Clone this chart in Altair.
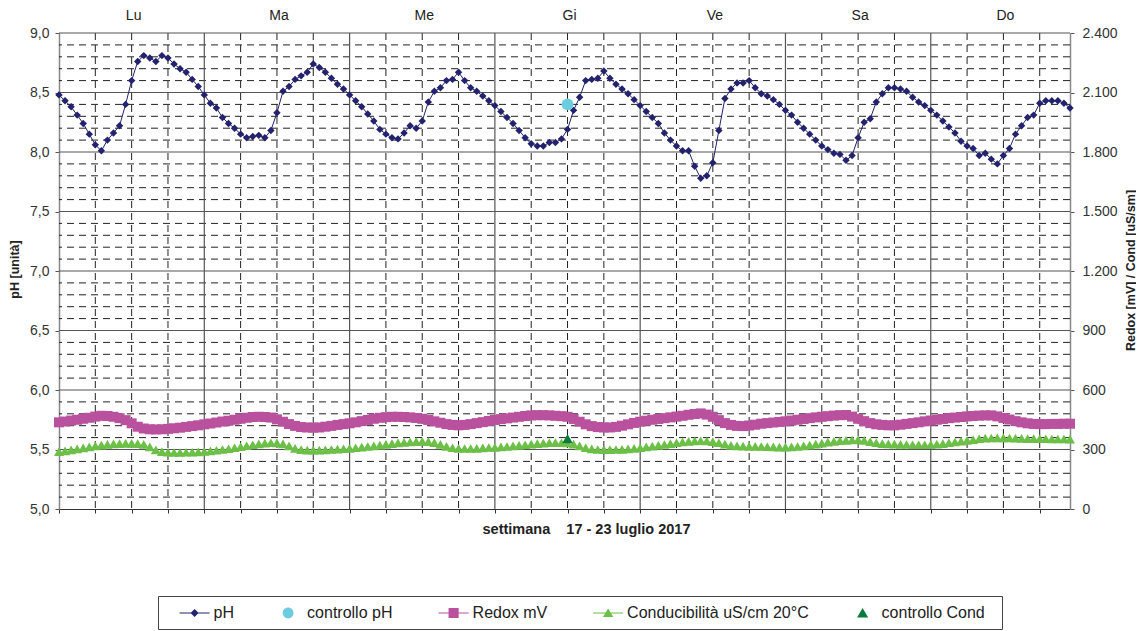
import altair as alt
import pandas as pd

# ---------------- data ----------------
hours = list(range(168))

ph = [8.48, 8.43, 8.38, 8.31, 8.24, 8.15, 8.06, 8.01, 8.10, 8.16, 8.22, 8.40, 8.60, 8.76, 8.81, 8.79, 8.76, 8.81, 8.79, 8.74, 8.70, 8.67, 8.61, 8.55,
      8.48, 8.41, 8.37, 8.29, 8.24, 8.20, 8.15, 8.12, 8.13, 8.14, 8.12, 8.18, 8.33, 8.51, 8.55, 8.61, 8.64, 8.67, 8.74, 8.71, 8.67, 8.62, 8.57, 8.53,
      8.48, 8.43, 8.38, 8.32, 8.26, 8.19, 8.15, 8.12, 8.11, 8.16, 8.22, 8.20, 8.26, 8.42, 8.51, 8.54, 8.60, 8.61, 8.67, 8.60, 8.54, 8.51, 8.47, 8.43,
      8.39, 8.34, 8.29, 8.24, 8.18, 8.12, 8.07, 8.05, 8.05, 8.08, 8.08, 8.11, 8.19, 8.35, 8.46, 8.60, 8.61, 8.62, 8.68, 8.62, 8.57, 8.53, 8.49, 8.44,
      8.39, 8.34, 8.29, 8.24, 8.16, 8.10, 8.05, 8.01, 8.01, 7.88, 7.78, 7.80, 7.91, 8.18, 8.45, 8.53, 8.58, 8.58, 8.60, 8.54, 8.49, 8.47, 8.44, 8.40,
      8.35, 8.31, 8.25, 8.20, 8.15, 8.10, 8.05, 8.02, 7.99, 7.98, 7.93, 7.97, 8.12, 8.25, 8.28, 8.42, 8.49, 8.54, 8.54, 8.53, 8.51, 8.46, 8.42, 8.39,
      8.35, 8.31, 8.26, 8.21, 8.16, 8.09, 8.05, 8.03, 7.97, 7.99, 7.94, 7.90, 7.97, 8.03, 8.15, 8.22, 8.29, 8.31, 8.41, 8.43, 8.43, 8.43, 8.41, 8.37]

redox = [437, 441, 446, 450, 455, 460, 466, 470, 469, 465, 458, 448, 432, 415, 406, 402, 401, 402, 404, 407, 410, 414, 418, 422,
         427, 431, 436, 441, 445, 450, 455, 460, 464, 465, 464, 461, 452, 440, 428, 419, 413, 411, 410, 411, 415, 419, 424, 428,
         432, 437, 443, 449, 455, 460, 463, 465, 465, 464, 462, 459, 455, 449, 442, 435, 428, 424, 422, 424, 428, 433, 438, 444,
         449, 453, 457, 461, 465, 469, 472, 473, 473, 472, 470, 468, 465, 454, 440, 427, 418, 413, 411, 411, 414, 420, 427, 434,
         440, 445, 450, 454, 458, 462, 466, 470, 475, 479, 482, 476, 465, 448, 433, 424, 419, 418, 421, 425, 430, 433, 436, 439,
         442, 446, 450, 454, 458, 462, 465, 468, 471, 473, 474, 466, 455, 443, 433, 427, 424, 422, 422, 425, 429, 433, 437, 442,
         446, 450, 454, 458, 461, 464, 467, 469, 471, 472, 472, 467, 459, 451, 443, 437, 432, 429, 428, 428, 429, 429, 430, 430]

cond = [289, 293, 298, 303, 308, 313, 318, 322, 326, 328, 330, 331, 331, 330, 326, 313, 298, 289, 286, 285, 285, 286, 287, 288,
        290, 293, 296, 300, 304, 309, 314, 319, 324, 328, 332, 334, 333, 328, 318, 306, 299, 297, 297, 297, 298, 300, 302, 304,
        306, 309, 312, 315, 318, 322, 326, 330, 333, 336, 338, 340, 341, 340, 335, 326, 316, 309, 306, 305, 305, 306, 308, 310,
        311, 313, 315, 318, 321, 324, 327, 330, 332, 334, 335, 334, 333, 327, 318, 309, 303, 300, 299, 299, 300, 301, 303, 306,
        309, 313, 317, 321, 325, 330, 334, 338, 341, 343, 344, 343, 340, 334, 327, 321, 318, 317, 316, 316, 315, 314, 313, 312,
        312, 313, 315, 318, 322, 327, 332, 337, 341, 344, 346, 348, 349, 346, 340, 334, 330, 328, 327, 326, 325, 324, 324, 324,
        325, 327, 330, 334, 338, 342, 346, 350, 354, 357, 358, 359, 359, 358, 357, 356, 355, 355, 354, 354, 353, 353, 353, 352]

ctrl_ph_hour = [84]
ctrl_ph = [8.4]
ctrl_cond_hour = [84]
ctrl_cond = [355]

days = ["Lu", "Ma", "Me", "Gi", "Ve", "Sa", "Do"]
day_center_hour = [12, 36, 60, 84, 108, 132, 156]

series = ["pH", "controllo pH", "Redox mV", "Conducibilità uS/cm 20°C", "controllo Cond"]
series_colors = ["#22226e", "#6dcde0", "#b9519f", "#6cbf47", "#0b7a3d"]

ph_ticks = [5.0, 5.5, 6.0, 6.5, 7.0, 7.5, 8.0, 8.5, 9.0]
right_ticks = [0, 300, 600, 900, 1200, 1500, 1800, 2100, 2400]
ph_minor = [5.1, 5.2, 5.3, 5.4, 5.6, 5.7, 5.8, 5.9, 6.1, 6.2, 6.3, 6.4, 6.6, 6.7, 6.8, 6.9,
            7.1, 7.2, 7.3, 7.4, 7.6, 7.7, 7.8, 7.9, 8.1, 8.2, 8.3, 8.4, 8.6, 8.7, 8.8, 8.9]
ph_major = [5.5, 6.0, 6.5, 7.0, 7.5, 8.0, 8.5, 9.0]
hour_ticks = list(range(0, 168, 6))
hour_minor = [h for h in hour_ticks if h % 24 != 0]
hour_major = [24, 48, 72, 96, 120, 144]

# ---------------- styling ----------------
FONT = "Liberation Sans"
df = pd.DataFrame({"h": hours, "ph": ph, "redox": redox, "cond": cond})

xs = alt.Scale(domain=[0, 167], nice=False, zero=False)
ys_ph = alt.Scale(domain=[5, 9], nice=False, zero=False)
ys_r = alt.Scale(domain=[0, 2400], nice=False, zero=True)

x_axis = alt.Axis(values=hour_ticks, labels=False, grid=False, tickSize=4, tickColor="#333",
                  domainColor="#333", domainWidth=1,
                  title="settimana \u00a0\u00a0\u00a017 - 23 luglio 2017", titleFont=FONT,
                  titleFontSize=14.5, titleFontWeight="bold", titleColor="#222",
                  titleX=527, titleY=24, titleBaseline="alphabetic")

left_axis = alt.Axis(values=ph_ticks, grid=False, tickSize=4, tickColor="#555",
                     domainColor="#888", domainWidth=1.5,
                     labelExpr="replace(format(datum.value, '.1f'), '.', ',')",
                     labelFont=FONT, labelFontSize=14, labelColor="#333", labelPadding=6,
                     title="pH [unità]", titleFont=FONT, titleFontSize=12.5, titleFontWeight="bold",
                     titleColor="#222", titleAngle=270, titleX=-45, titleY=236,
                     titleBaseline="middle", titleAlign="center")

right_axis = alt.Axis(orient="right", values=right_ticks, grid=False, tickSize=4, tickColor="#555",
                      domainColor="#888", domainWidth=1.5,
                      labelExpr="replace(format(datum.value, ',.0f'), ',', '.')",
                      labelFont=FONT, labelFontSize=14, labelColor="#333", labelPadding=8,
                      title="Redox [mV] / Cond [uS/sm]", titleFont=FONT, titleFontSize=12.5,
                      titleFontWeight="bold", titleColor="#222", titleAngle=270,
                      titleX=60, titleY=237, titleBaseline="middle", titleAlign="center")

X = lambda f: alt.X(f, scale=xs, axis=x_axis)
YP = lambda f: alt.Y(f, scale=ys_ph, axis=left_axis)
YR = lambda f: alt.Y(f, scale=ys_r, axis=right_axis)

# ---------------- grid ----------------
g_hminor = alt.Chart(pd.DataFrame({"v": ph_minor})).mark_rule(
    color="#222", strokeWidth=1, strokeDash=[7, 5]).encode(y=YP("v:Q"))
g_hmajor = alt.Chart(pd.DataFrame({"v": ph_major})).mark_rule(
    color="#555", strokeWidth=1.2).encode(y=YP("v:Q"))
g_vminor = alt.Chart(pd.DataFrame({"h": hour_minor})).mark_rule(
    color="#222", strokeWidth=1, strokeDash=[7, 5]).encode(x=X("h:Q"))
g_vmajor = alt.Chart(pd.DataFrame({"h": hour_major})).mark_rule(
    color="#555", strokeWidth=1.2).encode(x=X("h:Q"))

# ---------------- pH ----------------
ph_line = alt.Chart(df).mark_line(color="#22226e", strokeWidth=1).encode(x=X("h:Q"), y=YP("ph:Q"))
ph_pts = alt.Chart(df).mark_point(shape="diamond", filled=True, size=55, opacity=1,
                                  color="#22226e").encode(x=X("h:Q"), y=YP("ph:Q"))
ctrl_ph_pt = alt.Chart(pd.DataFrame({"h": ctrl_ph_hour, "v": ctrl_ph})).mark_point(
    shape="circle", filled=True, size=140, opacity=1, color="#6dcde0").encode(x=X("h:Q"), y=YP("v:Q"))

day_text = alt.Chart(pd.DataFrame({"h": day_center_hour, "d": days})).mark_text(
    font=FONT, fontSize=14, color="#222", baseline="alphabetic", align="center", dx=2).encode(
    x=X("h:Q"), y=alt.value(-13), text="d:N")

# ---------------- legend (guide only) ----------------
legend_paths = [
    "M-1.667,-0.067H1.667V0.067H-1.667Z M0,-0.45L0.45,0L0,0.45L-0.45,0Z",
    "M-0.6,0A0.6,0.6,0,1,1,0.6,0A0.6,0.6,0,1,1,-0.6,0Z",
    "M-1.667,-0.067H1.667V0.067H-1.667Z M-0.56,-0.56H0.56V0.56H-0.56Z",
    "M-1.667,-0.067H1.667V0.067H-1.667Z M0,-0.5L0.58,0.45L-0.58,0.45Z",
    "M0,-0.56L0.62,0.5L-0.62,0.5Z",
]
leg = alt.Legend(orient="none", legendX=99, legendY=563, direction="horizontal", columns=5,
                 columnPadding=44.5, symbolSize=324, symbolStrokeWidth=0, labelOffset=10,
                 labelFont=FONT, labelFontSize=16, labelColor="#222", labelLimit=400,
                 labelExpr="datum.label == 'controllo Cond' ? datum.label + '\u00a0\u00a0\u200b' : datum.label",
                 strokeColor="#444", fillColor="white", padding=8,
                 title="\u00a0", titleOrient="left", titlePadding=19.6, titleFontSize=16,
                 titleFont=FONT)
legend_layer = alt.Chart(pd.DataFrame({"serie": series, "h": [0] * 5, "v": [5.0] * 5})).mark_point(
    filled=True, opacity=1).encode(
    x=X("h:Q"), y=YP("v:Q"),
    color=alt.Color("serie:N", scale=alt.Scale(domain=series, range=series_colors), legend=leg),
    shape=alt.Shape("serie:N", scale=alt.Scale(domain=series, range=legend_paths), legend=leg),
).transform_filter("datum.h < 0")

A = alt.layer(g_hminor, g_vminor, g_hmajor, g_vmajor, ph_line, ph_pts, ctrl_ph_pt, day_text, legend_layer)

# ---------------- redox / cond ----------------
redox_pts = alt.Chart(df).mark_point(shape="square", filled=True, size=100, opacity=1,
                                     color="#b9519f").encode(x=X("h:Q"), y=YR("redox:Q"))
cond_pts = alt.Chart(df).mark_point(shape="triangle-up", filled=True, size=100, opacity=1,
                                    color="#6cbf47").encode(x=X("h:Q"), y=YR("cond:Q"))
ctrl_cond_pt = alt.Chart(pd.DataFrame({"h": ctrl_cond_hour, "v": ctrl_cond})).mark_point(
    shape="triangle-up", filled=True, size=110, opacity=1, color="#0b7a3d").encode(x=X("h:Q"), y=YR("v:Q"))

B = alt.layer(redox_pts, cond_pts, ctrl_cond_pt)

chart = alt.layer(A, B).resolve_scale(y="independent").properties(
    width=1011, height=476,
    autosize=alt.AutoSizeParams(type="none"),
    padding={"left": 51, "top": 25, "right": 66, "bottom": 122},
).configure(font=FONT, background="white").configure_view(stroke="transparent")

chart.save("out.html", embed_options={"renderer": "svg", "actions": False})
